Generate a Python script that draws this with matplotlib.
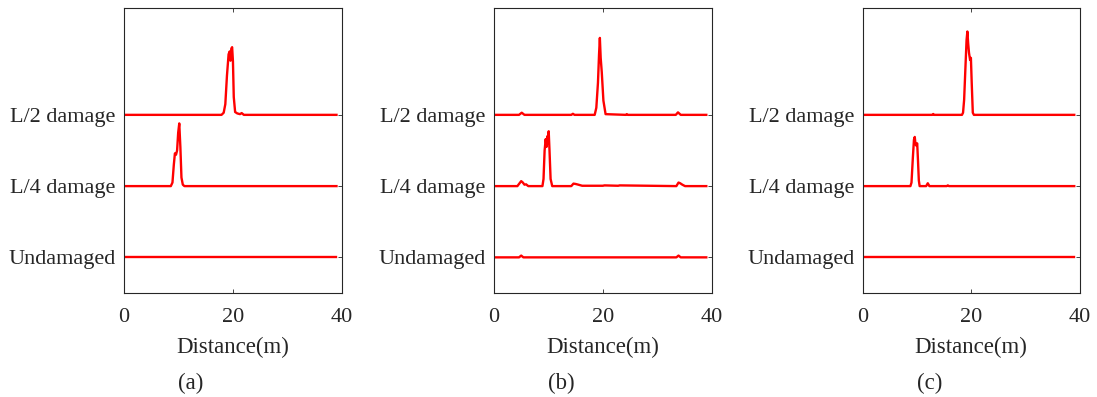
"""Damage index along the beam for three cases (a), (b), (c)"""
import matplotlib
matplotlib.use('Agg')
import matplotlib.pyplot as plt

plt.rcParams['font.family'] = ['Liberation Serif', 'DejaVu Serif']
plt.rcParams['mathtext.fontset'] = 'stix'

state_labels = ['Undamaged', 'L/4 damage', 'L/2 damage']
state_levels = [1, 2, 3]
panel_tags = ['(a)', '(b)', '(c)']
x_ticks = [0, 20, 40]

# panel (a)
xa0 = [0, 39]
ya0 = [0, 0]
xa1 = [0, 8.6, 8.9, 9.15, 9.35, 9.55, 9.75, 9.95, 10.15, 10.35, 10.55, 10.8, 11.1, 39]
ya1 = [0, 0, 0.05, 0.3, 0.46, 0.44, 0.5, 0.75, 0.88, 0.55, 0.12, 0.02, 0, 0]
xa2 = [0, 17.9, 18.3, 18.6, 18.9, 19.2, 19.4, 19.55, 19.7, 19.85, 20.0, 20.15,
       20.4, 20.8, 21.3, 21.6, 22.0, 39]
ya2 = [0, 0, 0.03, 0.15, 0.55, 0.85, 0.89, 0.76, 0.93, 0.95, 0.75, 0.25,
       0.04, 0.02, 0.01, 0.025, 0, 0]

# panel (b)
xb0 = [0, 4.6, 5.0, 5.4, 33.5, 33.9, 34.3, 39]
yb0 = [0, 0, 0.025, 0, 0, 0.025, 0, 0]
xb1 = [0, 4.3, 4.7, 5.0, 5.3, 5.6, 5.9, 6.3, 8.9, 9.1, 9.3, 9.5, 9.65, 9.8,
       9.95, 10.05, 10.2, 10.4, 10.7, 14.2, 14.6, 15.0, 15.5, 16.2, 20.0, 20.3,
       22.8, 23.1, 33.5, 33.9, 34.2, 34.6, 35.1, 39]
yb1 = [0, 0, 0.04, 0.07, 0.05, 0.02, 0.025, 0, 0, 0.1, 0.5, 0.66, 0.55, 0.7,
       0.6, 0.77, 0.5, 0.1, 0, 0, 0.035, 0.03, 0.02, 0.005, 0.005, 0.01,
       0.005, 0.01, 0, 0.05, 0.04, 0.02, 0, 0]
xb2 = [0, 4.6, 5.1, 5.6, 14.2, 14.5, 14.8, 18.5, 18.8, 19.1, 19.3, 19.45, 19.6,
       19.8, 20.1, 20.5, 24.2, 24.4, 24.6, 33.4, 33.8, 34.3, 39]
yb2 = [0, 0, 0.03, 0, 0, 0.015, 0, 0, 0.1, 0.45, 0.85, 1.08, 0.8,
       0.6, 0.2, 0.01, 0, 0.01, 0, 0, 0.035, 0, 0]

# panel (c)
xc0 = [0, 39]
yc0 = [0, 0]
xc1 = [0, 8.8, 9.0, 9.25, 9.45, 9.6, 9.72, 9.85, 10.05, 10.2, 10.35, 10.5,
       11.7, 12.0, 12.3, 15.5, 15.7, 15.9, 39]
yc1 = [0, 0, 0.05, 0.4, 0.65, 0.69, 0.6, 0.57, 0.6, 0.35, 0.08, 0,
       0, 0.04, 0, 0, 0.01, 0, 0]
xc2 = [0, 12.8, 13.0, 13.2, 18.3, 18.5, 18.7, 18.95, 19.15, 19.3, 19.45, 19.6,
       19.8, 19.95, 20.1, 20.3, 20.5, 39]
yc2 = [0, 0, 0.012, 0, 0, 0.03, 0.21, 0.68, 1.05, 1.17, 1.0, 0.87,
       0.77, 0.8, 0.45, 0.03, 0, 0]

panels = [
    [(xa0, ya0), (xa1, ya1), (xa2, ya2)],
    [(xb0, yb0), (xb1, yb1), (xb2, yb2)],
    [(xc0, yc0), (xc1, yc1), (xc2, yc2)],
]

fig = plt.figure(figsize=(10.97, 3.97), dpi=100)
lefts = [0.1130, 0.4503, 0.7864]
widths = [0.1987, 0.1985, 0.1978]
spine_col = '#262626'

for k, curves in enumerate(panels):
    ax = fig.add_axes([lefts[k], 0.2620, widths[k], 0.7179])
    for (xs, ys), lev in zip(curves, state_levels):
        ax.plot(xs, [lev + v for v in ys], color='red', lw=1.7)
    ax.set_xlim(0, 40)
    ax.set_ylim(0.5, 4.5)
    ax.set_xticks(x_ticks)
    ax.set_yticks(state_levels)
    ax.set_yticklabels(state_labels)
    ax.tick_params(direction='in', length=3, width=0.6, color=spine_col,
                   top=True, right=True, labelsize=16, labelcolor='#262626')
    ax.tick_params(axis='x', pad=11)
    ax.tick_params(axis='y', pad=6)
    for sp in ax.spines.values():
        sp.set_color(spine_col)
        sp.set_linewidth(0.8)
    ax.set_xlabel('Distance(m)', fontsize=16.5, color='#262626', labelpad=7)
    ax.text(0.307, -0.318, panel_tags[k], transform=ax.transAxes,
            ha='center', va='center', fontsize=16.5, color='#262626')

fig.savefig('out.png', dpi=100)
